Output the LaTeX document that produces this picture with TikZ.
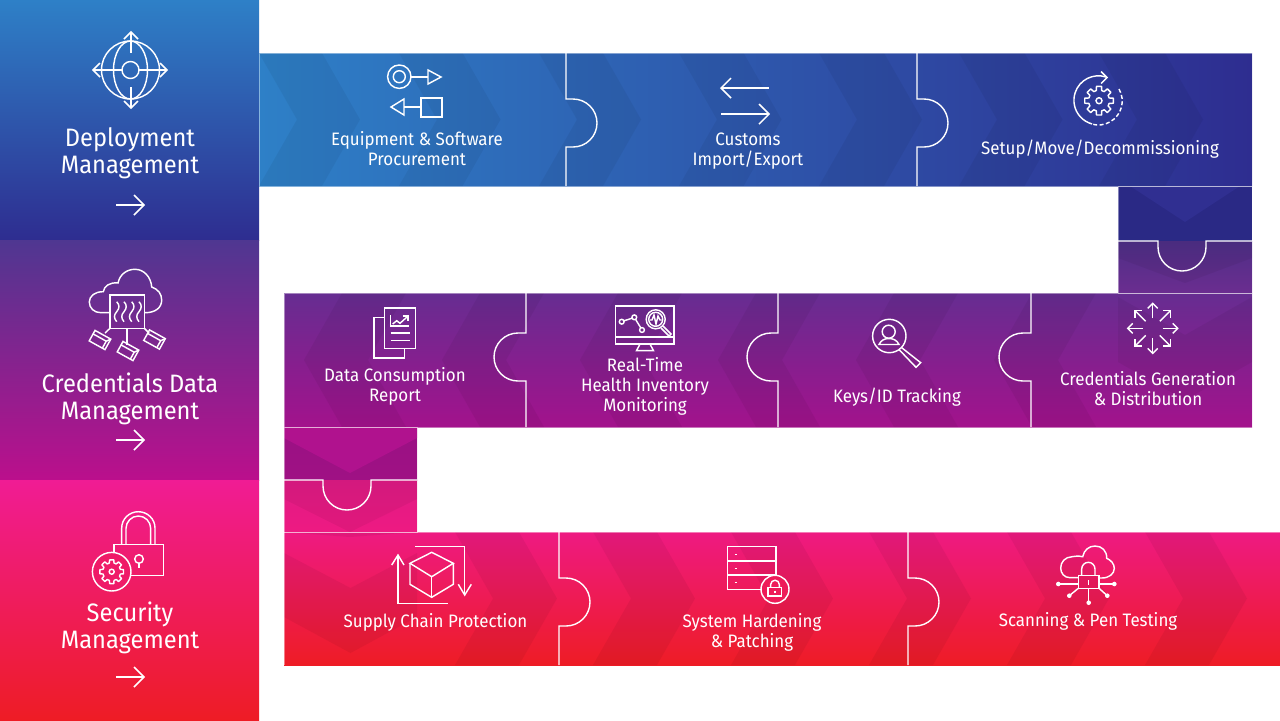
\documentclass[tikz,border=0pt]{standalone}
\usepackage{fontspec}
\setmainfont[FakeStretch=0.94]{Fira Sans}
\usetikzlibrary{calc}
\definecolor{sA}{HTML}{2E80C7}\definecolor{sB}{HTML}{2E2D90}
\definecolor{sC}{HTML}{4F3791}\definecolor{sD}{HTML}{BB0F8C}
\definecolor{sE}{HTML}{F01C94}\definecolor{sF}{HTML}{EE1C25}
\definecolor{bA}{HTML}{662D91}\definecolor{bB}{HTML}{A3128C}
\definecolor{bC}{HTML}{EE1A82}
\definecolor{pA}{HTML}{4E2F86}\definecolor{pB}{HTML}{6B2D90}
\definecolor{pC}{HTML}{A8128C}\definecolor{pD}{HTML}{DF1B85}
\definecolor{pE}{HTML}{B0128E}
\definecolor{fillS}{HTML}{EE1B59}\definecolor{fillL}{HTML}{EF1B68}
\tikzset{
  x=0.5pt,y=-0.5pt,
  icon/.style={draw=white,line width=0.72pt,line join=miter},
  seam/.style={draw=white,line width=0.7pt},
  rim/.style={draw=white,draw opacity=.42,line width=0.5pt},
  shadeband/.style={fill=black,fill opacity=.05},
  side/.style={text=white,align=center,inner sep=0pt,font=\fontsize{12.6}{13.5}\selectfont},
  item/.style={text=white,align=center,inner sep=0pt,font=\fontsize{9}{10}\selectfont},
}
% right-pointing chevron band: tip1, tip2, top, bottom
\newcommand{\ChevR}[4]{\fill[shadeband] ({#1-38},#3) -- ({#1},{(#3+#4)/2}) -- ({#1-38},#4) -- ({#2-38},#4) -- ({#2},{(#3+#4)/2}) -- ({#2-38},#3) -- cycle;}
\newcommand{\ChevL}[4]{\fill[shadeband] ({#1+38},#3) -- ({#1},{(#3+#4)/2}) -- ({#1+38},#4) -- ({#2+38},#4) -- ({#2},{(#3+#4)/2}) -- ({#2+38},#3) -- cycle;}
% down-pointing V band: x1, x2, edge y1, apex y1, edge y2, apex y2
\newcommand{\ChevD}[6]{\fill[shadeband] (#1,#3) -- ({(#1+#2)/2},#4) -- (#2,#3) -- (#2,#5) -- ({(#1+#2)/2},#6) -- (#1,#5) -- cycle;}
\newcommand{\GearIcon}[5]{% cx cy ro ri hole
  \begin{scope}[shift={(#1,#2)}]
  \draw[icon,line join=round] (-15:#4) \foreach \k in {0,45,...,315} { -- ({\k-15}:#4) -- ({\k-10}:#3) -- ({\k+10}:#3) -- ({\k+15}:#4) } -- cycle;
  \draw[icon] (0,0) circle (#5);
  \end{scope}}
\newcommand{\BoxIcon}[2]{%
  \begin{scope}[shift={(#1,#2)},rotate=-29]
  \draw[icon] (-9,-6) rectangle (9,6);
  \draw[icon] (-9,-2) -- (6,-2) -- (9,-6);
  \draw[icon] (6,-2) -- (6,6);
  \end{scope}}
\newcommand{\WaveIcon}[1]{\draw[icon] (#1,301.7) .. controls ({#1+3},305) and ({#1+3},308) .. (#1,311.7) .. controls ({#1-3},315) and ({#1-3},318) .. (#1,321.7);}
\begin{document}
\begin{tikzpicture}
\useasboundingbox (0,0) rectangle (1280,720);
\fill[white] (0,0) rectangle (1280,720);
% sidebar
\shade[top color=sA,bottom color=sB] (0,0) rectangle (259,240);
\shade[top color=sC,bottom color=sD] (0,240) rectangle (259,480);
\shade[top color=sE,bottom color=sF] (0,480) rectangle (259,720);
% band one
\shade[left color=sA,right color=sB] (259,53) rectangle (1252,186);
\begin{scope}
\clip (259,53) rectangle (1252,186);
\foreach \a in {0,1,...,6} {\ChevR{297+140*\a}{360+140.5*\a}{53}{186}}
\end{scope}
% link one
\fill[sB!92!black] (1118,186) rectangle (1252,241);
\shade[top color=pA,bottom color=pB] (1118,241) rectangle (1252,293);
\begin{scope}
\clip (1118,186) rectangle (1252,293);
\fill[sB!99!white] (1130,186) -- (1185,222) -- (1240,186) -- cycle;
\fill[shadeband] (1118,241) -- (1252,241) -- (1252,258) -- (1185,283) -- (1118,258) -- cycle;
\end{scope}
% band two
\shade[top color=bA,bottom color=bB] (284,293) rectangle (1252,427);
\begin{scope}
\clip (284,293) rectangle (1252,427);
\foreach \a in {0,1,...,5} {\ChevL{304+138*\a}{368+138*\a}{293}{427}}
\ChevD{1118}{1252}{297}{335}{362}{400}
\end{scope}
% link two
\shade[top color=bB,bottom color=pC] (284,427) rectangle (417,480);
\shade[top color=pD,bottom color=bC] (284,480) rectangle (417,532);
\begin{scope}
\clip (284,427) rectangle (417,532);
\fill[shadeband] (284,427) rectangle (417,480);
\fill[pE] (284,427) -- (417,427) -- (417,438) -- (350,473) -- (284,438) -- cycle;
\fill[shadeband] (284,480) -- (417,480) -- (417,499) -- (350,532) -- (284,499) -- cycle;
\end{scope}
% band three
\shade[top color=bC,bottom color=sF] (284,532) rectangle (1280,665);
\begin{scope}
\clip (417,532) rectangle (1280,665);
\foreach \a in {0,1,...,5} {\ChevR{493+138*\a}{557+138*\a}{532}{665}}
\end{scope}
\begin{scope}
\clip (284,532) rectangle (417,665);
\ChevD{284}{417}{553}{588}{617}{653}
\fill[shadeband] (284,532) -- (417,532) -- (350,537) -- cycle;
\end{scope}
% rims
\draw[rim] (259,53) rectangle (1252,186);
\draw[rim] (1118,186) rectangle (1252,293);
\draw[rim] (284,293) rectangle (1252,427);
\draw[rim] (284,427) rectangle (417,532);
\draw[rim] (284,532) -- (1280,532);
\draw[rim] (284,532) -- (284,665);
% seams
\draw[seam] (566,53) -- (566,99) -- (573,99) arc[start angle=-90,end angle=90,radius=24] -- (566,147) -- (566,186);
\draw[seam] (917,53) -- (917,99) -- (924,99) arc[start angle=-90,end angle=90,radius=24] -- (917,147) -- (917,186);
\draw[seam] (1118,241) -- (1158,241) -- (1158,247) arc[start angle=180,end angle=0,radius=24] -- (1206,241) -- (1252,241);
\draw[seam] (526,293) -- (526,333) -- (518,333) arc[start angle=270,end angle=90,radius=24] -- (526,381) -- (526,427);
\draw[seam] (778,293) -- (778,333) -- (771,333) arc[start angle=270,end angle=90,radius=24] -- (778,381) -- (778,427);
\draw[seam] (1031,293) -- (1031,333) -- (1023,333) arc[start angle=270,end angle=90,radius=24] -- (1031,381) -- (1031,427);
\draw[seam] (284,480) -- (323,480) -- (323,486) arc[start angle=180,end angle=0,radius=24] -- (371,480) -- (417,480);
\draw[seam] (559,532) -- (559,578) -- (566,578) arc[start angle=-90,end angle=90,radius=24] -- (559,626) -- (559,665);
\draw[seam] (908,532) -- (908,578) -- (915,578) arc[start angle=-90,end angle=90,radius=24] -- (908,626) -- (908,665);
% sidebar labels
\node[side] (lblA) at (130,153) {Deployment\\Management};
\node[side] (lblB) at (130,399) {Credentials Data\\Management};
\node[side] (lblC) at (130,628) {Security\\Management};
% sidebar arrows
\foreach \yy in {205,440,677} {
  \draw[icon,line width=.85pt] (116,\yy) -- (144,\yy);
  \draw[icon,line width=.85pt] (134,{\yy-10}) -- (144,\yy) -- (134,{\yy+10});
}
% item labels
\node[item] (tA) at (417,149) {Equipment \& Software\\Procurement};
\node[item] (tB) at (748,151) {Customs\\Import/Export};
\node[item] (tC) at (1100,149.5) {Setup/Move/Decommissioning};
\node[item] (tD) at (395,386.5) {Data Consumption\\Report};
\node[item] (tE) at (645,386.5) {Real-Time\\Health Inventory\\Monitoring};
\node[item] (tF) at (897,397.5) {Keys/ID Tracking};
\node[item] (tG) at (1148,389) {Credentials Generation\\\& Distribution};
\node[item] (tH) at (435.5,622) {Supply Chain Protection};
\node[item] (tI) at (752,632) {System Hardening\\\& Patching};
\node[item] (tJ) at (1088,621.5) {Scanning \& Pen Testing};
% globe
\draw[icon] (130.5,70) circle (29);
\draw[icon] (130.5,70) ellipse (17 and 29);
\draw[icon] (130.5,70) circle (8.5);
\draw[icon] (93,70) -- (122,70) (139,70) -- (167,70);
\draw[icon] (131,32) -- (131,53) (131,87) -- (131,108);
\draw[icon] (100,63) -- (93,70) -- (100,77);
\draw[icon] (160,63) -- (167,70) -- (160,77);
\draw[icon] (124,39) -- (131,32) -- (138,39);
\draw[icon] (124,101) -- (131,108) -- (138,101);
% cloud with boxes
\draw[icon] (110,312.7) -- (101,312.7) .. controls (94,312.7) and (89.3,308) .. (89.3,302) .. controls (89.3,296) and (95,291.5) .. (103.3,291.7) .. controls (104,286) and (110,282) .. (118,283) .. controls (120,274) and (127,269.3) .. (135,269.3) .. controls (144,269.3) and (151,277) .. (151.7,287) .. controls (158,289) and (161.7,294) .. (161.7,300) .. controls (161.7,308) and (155,312.7) .. (145,312.7) -- (144.3,312.7);
\draw[icon] (110,295) rectangle (144.3,328.3);
\WaveIcon{116.7}\WaveIcon{124}\WaveIcon{131.7}\WaveIcon{139}
\draw[icon] (127,328.3) -- (127,345);
\draw[icon] (110,328.3) -- (105,333);
\draw[icon] (144.3,328.3) -- (149,333);
\BoxIcon{100}{340}\BoxIcon{128}{351}\BoxIcon{154.5}{339.5}
% padlock and gear
\draw[icon] (114,544.3) rectangle (163.3,575.7);
\draw[icon] (121.7,544.3) -- (121.7,528) arc[start angle=180,end angle=0,x radius=16.65,y radius=-16.3] -- (155,544.3);
\draw[icon] (126,544.3) -- (126,528.5) arc[start angle=180,end angle=0,x radius=12.35,y radius=-12.5] -- (150.7,544.3);
\draw[icon] (139,559) circle (4.3);
\draw[icon] (139,563.3) -- (139,568);
\draw[icon,fill=fillL] (111.7,571.7) circle (19.3);
\GearIcon{111.7}{571.7}{12}{9}{2.5}
% equipment
\draw[icon] (399.3,76.7) circle (11.7);
\draw[icon] (399.3,76.7) circle (6);
\draw[icon] (411,77) -- (428,77);
\draw[icon] (428,70) -- (441,77) -- (428,84) -- cycle;
\draw[icon] (421,98) rectangle (442,117);
\draw[icon] (421,107) -- (404,107);
\draw[icon] (404,99) -- (391,107) -- (404,115) -- cycle;
% customs
\draw[icon] (769,88) -- (721,88);
\draw[icon] (731,78) -- (721,88) -- (731,98);
\draw[icon] (721,114) -- (769,114);
\draw[icon] (759,104) -- (769,114) -- (759,124);
% setup
\GearIcon{1099}{100.7}{14.5}{10.5}{3}
\draw[icon] (1106,77) arc[start angle=-72,end angle=-255,x radius=24.5,y radius=24.5];
\draw[icon] (1101,71.5) -- (1107,77.5) -- (1101,83.5);
\draw[icon,dash pattern=on 2pt off 1.2pt] (1119,89) arc[start angle=-30,end angle=105,radius=24];
% data report
\draw[icon] (384.3,308) rectangle (415.7,348.7);
\draw[icon] (384.3,317.7) -- (374,317.7) -- (374,358) -- (404.7,358) -- (404.7,348.7);
\draw[icon] (390.7,315) -- (390.7,326) -- (409.3,326);
\draw[icon] (392.7,324) -- (396.7,320.7) -- (400,323.3) -- (407.3,316.7);
\draw[icon] (402.5,316) -- (408,316) -- (408,321);
\draw[icon] (390.7,333) -- (410,333);
\draw[icon] (390.7,340.7) -- (410,340.7);
% monitor
\draw[icon] (615.7,306) rectangle (674,344);
\draw[icon] (615.7,337) -- (674,337);
\draw[icon] (640,344) -- (636.5,350.7) -- (653.5,350.7) -- (650,344);
\draw[icon] (621.7,321.7) circle (2.4);
\draw[icon] (634.3,317.3) circle (2.4);
\draw[icon] (642,330) circle (2.4);
\draw[icon] (624,320.8) -- (632,318.2);
\draw[icon] (635.6,319.4) -- (640.8,327.9);
\draw[icon] (655.7,319.3) circle (9.5);
\draw[icon] (655.7,319.3) circle (7);
\draw[icon] (650,320) -- (652,320) -- (654,315) -- (656,324) -- (658,316) -- (660,320) -- (661.5,320);
\draw[icon] (663,326) -- (671,334) -- (669,336) -- (661,328);
% keys
\draw[icon] (889.3,336) circle (16.7);
\draw[icon] (888.7,331.7) circle (6.5);
\draw[icon] (879,344.5) .. controls (881,340) and (885,338.5) .. (888.7,338.5) .. controls (893,338.5) and (897,340) .. (899,344.5) -- cycle;
\draw[icon] (901.5,347.5) -- (920.7,362.7) -- (916,367.3) -- (899,349.5);
% credentials arrows
\foreach \ang in {0,45,...,315} {
  \begin{scope}[shift={(1152.7,328.3)},rotate=\ang]
  \draw[icon] (10,0) -- (25,0);
  \draw[icon] (20,-5) -- (25,0) -- (20,5);
  \end{scope}
}
% supply chain
\draw[icon] (431.7,552.3) -- (453.3,563.3) -- (431.7,576.7) -- (410,563.3) -- cycle;
\draw[icon] (410,563.3) -- (410,584.3) -- (431.7,597.3) -- (453.3,584.3) -- (453.3,563.3);
\draw[icon] (431.7,576.7) -- (431.7,597.3);
\draw[icon] (447.7,603.3) -- (398,603.3) -- (398,555);
\draw[icon] (391.7,565) -- (398,555) -- (404,565);
\draw[icon] (415,546.7) -- (464.7,546.7) -- (464.7,595);
\draw[icon] (458.3,584.3) -- (464.7,595) -- (471.3,584.3);
% servers
\draw[icon] (727.7,546.7) rectangle (776,589.3);
\draw[icon] (727.7,561) -- (776,561);
\draw[icon] (727.7,575) -- (776,575);
\foreach \yy in {554.3,568.7,582.7} {\draw[icon] (734.5,\yy) -- (737.2,\yy);}
\draw[icon,fill=fillS] (775,589.3) circle (14);
\draw[icon] (768,587.7) rectangle (781.7,596);
\draw[icon] (770.7,587.7) -- (770.7,584.5) arc[start angle=180,end angle=0,x radius=4.3,y radius=-4.3] -- (779.3,587.7);
\draw[icon] (775,590.5) -- (775,593);
% scanning
\draw[icon] (1078.3,577.7) -- (1070,577.7) .. controls (1064,577.7) and (1060.7,573) .. (1060.7,568) .. controls (1060.7,562) and (1065,557) .. (1072,556.7) .. controls (1074,556.5) and (1078,555.5) .. (1082.7,556.7) .. controls (1084,550) and (1089,546) .. (1095,546) .. controls (1102,546) and (1107,551) .. (1106.7,558.3) .. controls (1111,560) and (1114.3,564) .. (1114.3,568.3) .. controls (1114.3,574) and (1109,578) .. (1101.7,578) -- (1099,578);
\draw[icon] (1078.3,575.7) rectangle (1099,588.3);
\draw[icon] (1081.7,575.7) -- (1081.7,569) arc[start angle=180,end angle=0,x radius=6.65,y radius=-6.7] -- (1095,575.7);
\draw[icon] (1088.7,580) -- (1088.7,585);
\foreach \cx/\cy/\sx/\sy in {1058.3/584/1078.3/584,1114.3/584/1099/584,1069.3/595.7/1078.3/588.3,1107.3/595.7/1099/588.3,1088.7/602.7/1088.7/588.3} {
  \draw[icon] (\sx,\sy) -- (\cx,\cy);
  \fill[white] (\cx,\cy) circle (2.3);
}
\end{tikzpicture}
\end{document}
